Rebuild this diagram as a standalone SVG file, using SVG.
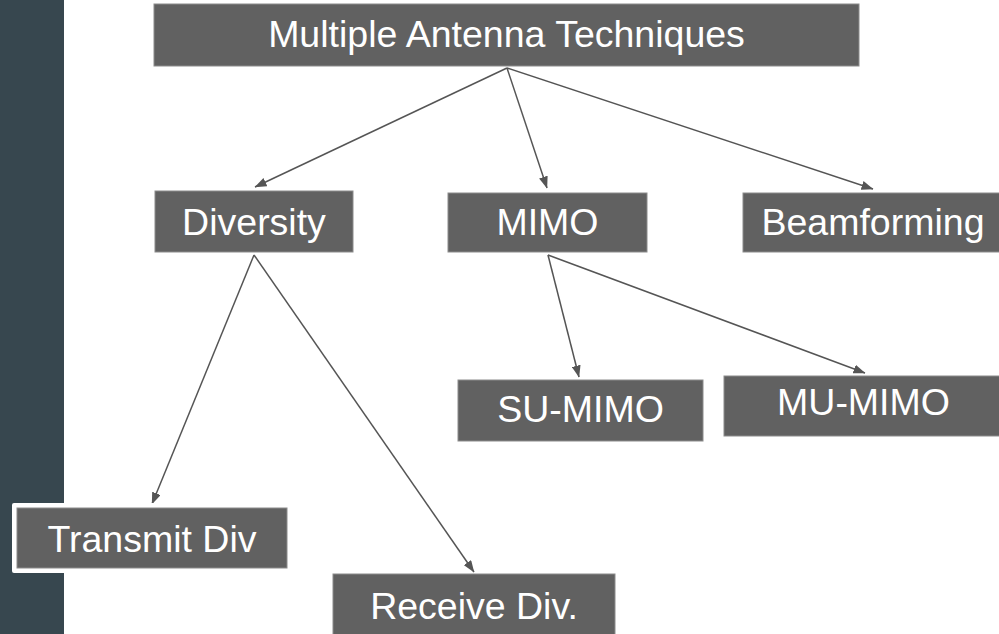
<svg xmlns="http://www.w3.org/2000/svg" width="999" height="634" viewBox="0 0 999 634">
  <defs>
    <marker id="arrow" viewBox="0 0 12 9" refX="11.5" refY="4.5" markerWidth="12" markerHeight="9" markerUnits="userSpaceOnUse" orient="auto">
      <path d="M0,0 L12,4.5 L0,9 z" fill="#555555"/>
    </marker>
    <style>
      .box { fill: #616161; stroke: #8c8c8c; stroke-width: 1; }
      .label { fill: #ffffff; font-family: "Liberation Sans", Arial, sans-serif; font-size: 37.5px; text-anchor: middle; }
      .edge { stroke: #555555; stroke-width: 1.5; fill: none; marker-end: url(#arrow); }
    </style>
  </defs>

  <!-- background and side band -->
  <rect x="0" y="0" width="999" height="634" fill="#ffffff"/>
  <rect x="0" y="0" width="64" height="634" fill="#37474f"/>

  <!-- connectors -->
  <g id="connectors">
    <line class="edge" x1="507" y1="68" x2="255" y2="187"/>
    <line class="edge" x1="507" y1="68" x2="547" y2="188"/>
    <line class="edge" x1="507" y1="68" x2="873" y2="189"/>
    <line class="edge" x1="548" y1="255" x2="579" y2="377"/>
    <line class="edge" x1="548" y1="255" x2="865" y2="373"/>
    <line class="edge" x1="254" y1="255" x2="152" y2="504"/>
    <line class="edge" x1="254" y1="255" x2="474" y2="572"/>
  </g>

  <g id="node-root">
    <rect class="box" x="154" y="4" width="705" height="62"/>
    <text class="label" x="506.5" y="47">Multiple Antenna Techniques</text>
  </g>

  <g id="node-diversity">
    <rect class="box" x="155" y="191" width="198" height="61"/>
    <text class="label" x="254" y="235">Diversity</text>
  </g>

  <g id="node-mimo">
    <rect class="box" x="448" y="193" width="199" height="59"/>
    <text class="label" x="547.5" y="235">MIMO</text>
  </g>

  <g id="node-beamforming">
    <rect class="box" x="743" y="193" width="262" height="59"/>
    <text class="label" x="873" y="235">Beamforming</text>
  </g>

  <g id="node-su-mimo">
    <rect class="box" x="458" y="380" width="245" height="61"/>
    <text class="label" x="580.5" y="422">SU-MIMO</text>
  </g>

  <g id="node-mu-mimo">
    <rect class="box" x="724" y="376" width="280" height="60"/>
    <text class="label" x="863.5" y="415">MU-MIMO</text>
  </g>

  <g id="node-transmit-div">
    <rect x="12" y="503" width="280" height="70" rx="2" fill="#ffffff"/>
    <rect class="box" x="17" y="508" width="270" height="60"/>
    <text class="label" x="152" y="552">Transmit Div</text>
  </g>

  <g id="node-receive-div">
    <rect class="box" x="333" y="574" width="282" height="66"/>
    <text class="label" x="474" y="619">Receive Div.</text>
  </g>
</svg>
